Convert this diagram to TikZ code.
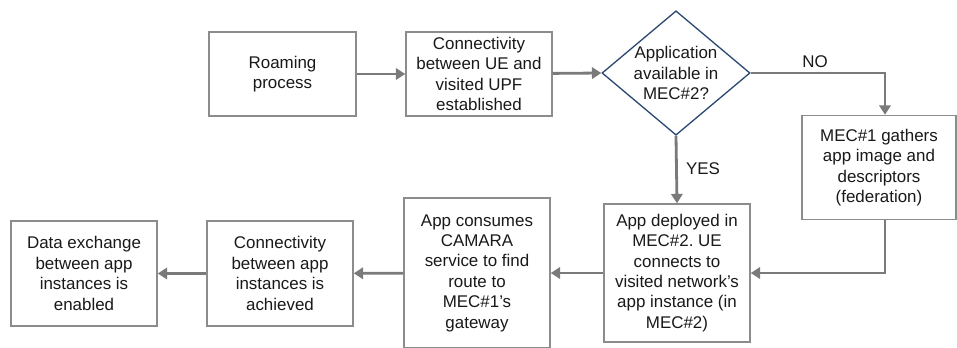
\documentclass[tikz,border=0pt]{standalone}
\usepackage{fontspec}
\setmainfont{Liberation Sans}
\usetikzlibrary{shapes.geometric,arrows.meta}
\definecolor{boxg}{rgb}{0.55,0.55,0.55}
\definecolor{lineg}{rgb}{0.48,0.48,0.48}
\definecolor{navy}{rgb}{0.18,0.29,0.45}
\definecolor{txt}{rgb}{0.1,0.1,0.1}
\frenchspacing

\begin{document}
\begin{tikzpicture}[x=0.75pt,y=-0.75pt,
  flowbox/.style={draw=boxg,line width=1.1pt,fill=white,text=txt,align=center,
    inner sep=2pt,font=\fontsize{12.7}{15.3}\selectfont},
  askbox/.style={draw=navy,line width=1pt,shape=diamond,aspect=1.19,inner sep=0pt,
    text=txt,align=center,font=\fontsize{12.7}{15.3}\selectfont,
    minimum width=110pt,minimum height=93pt},
  flow/.style={draw=lineg,line width=2.1pt,-{Triangle[length=7pt,width=8.5pt]}},
  tag/.style={text=txt,font=\fontsize{12.7}{15.3}\selectfont}]
\useasboundingbox (0,0) rectangle (957,347);
\node[flowbox,minimum width=110pt,minimum height=63pt] (roam) at (282.5,74) {Roaming\\process};
\node[flowbox,minimum width=109.5pt,minimum height=63pt] (upf) at (479,74) {Connectivity\\between UE and\\visited UPF\\established};
\node[askbox] (avail) at (676,73) {Application\\available in\\MEC\#2?};
\node[flowbox,minimum width=115.5pt,minimum height=78pt] (mec1) at (879,167.5) {MEC\#1 gathers\\app image and\\descriptors\\(federation)};
\node[flowbox,minimum width=109.5pt,minimum height=103.5pt] (deploy) at (677,273) {App deployed in\\MEC\#2. UE\\connects to\\visited network's\\app instance (in\\MEC\#2)};
\node[flowbox,minimum width=109.5pt,minimum height=112.5pt] (camara) at (477,273) {App consumes\\CAMARA\\service to find\\route to\\MEC\#1's\\gateway};
\node[flowbox,minimum width=109.5pt,minimum height=78.75pt] (conn) at (280,273.5) {Connectivity\\between app\\instances is\\achieved};
\node[flowbox,minimum width=109.5pt,minimum height=78.75pt] (data) at (84,273.5) {Data exchange\\between app\\instances is\\enabled};
\coordinate (mectop) at ([xshift=4.5pt]mec1.north);
\coordinate (mecbot) at ([xshift=4.5pt]mec1.south);
\node[tag] (no) at (815,62) {NO};
\node[tag] (yes) at (703,169) {YES};
\draw[flow] (roam) to (upf);
\draw[flow] (upf) to (avail.west);
\draw[flow] (avail.east) -| (mectop);
\draw[flow] (avail.south) to (deploy.north);
\draw[flow] (mecbot) |- (deploy.east);
\draw[flow] (deploy) to (camara);
\draw[flow] (camara) to (conn);
\draw[flow] (conn) to (data);
\end{tikzpicture}
\end{document}
